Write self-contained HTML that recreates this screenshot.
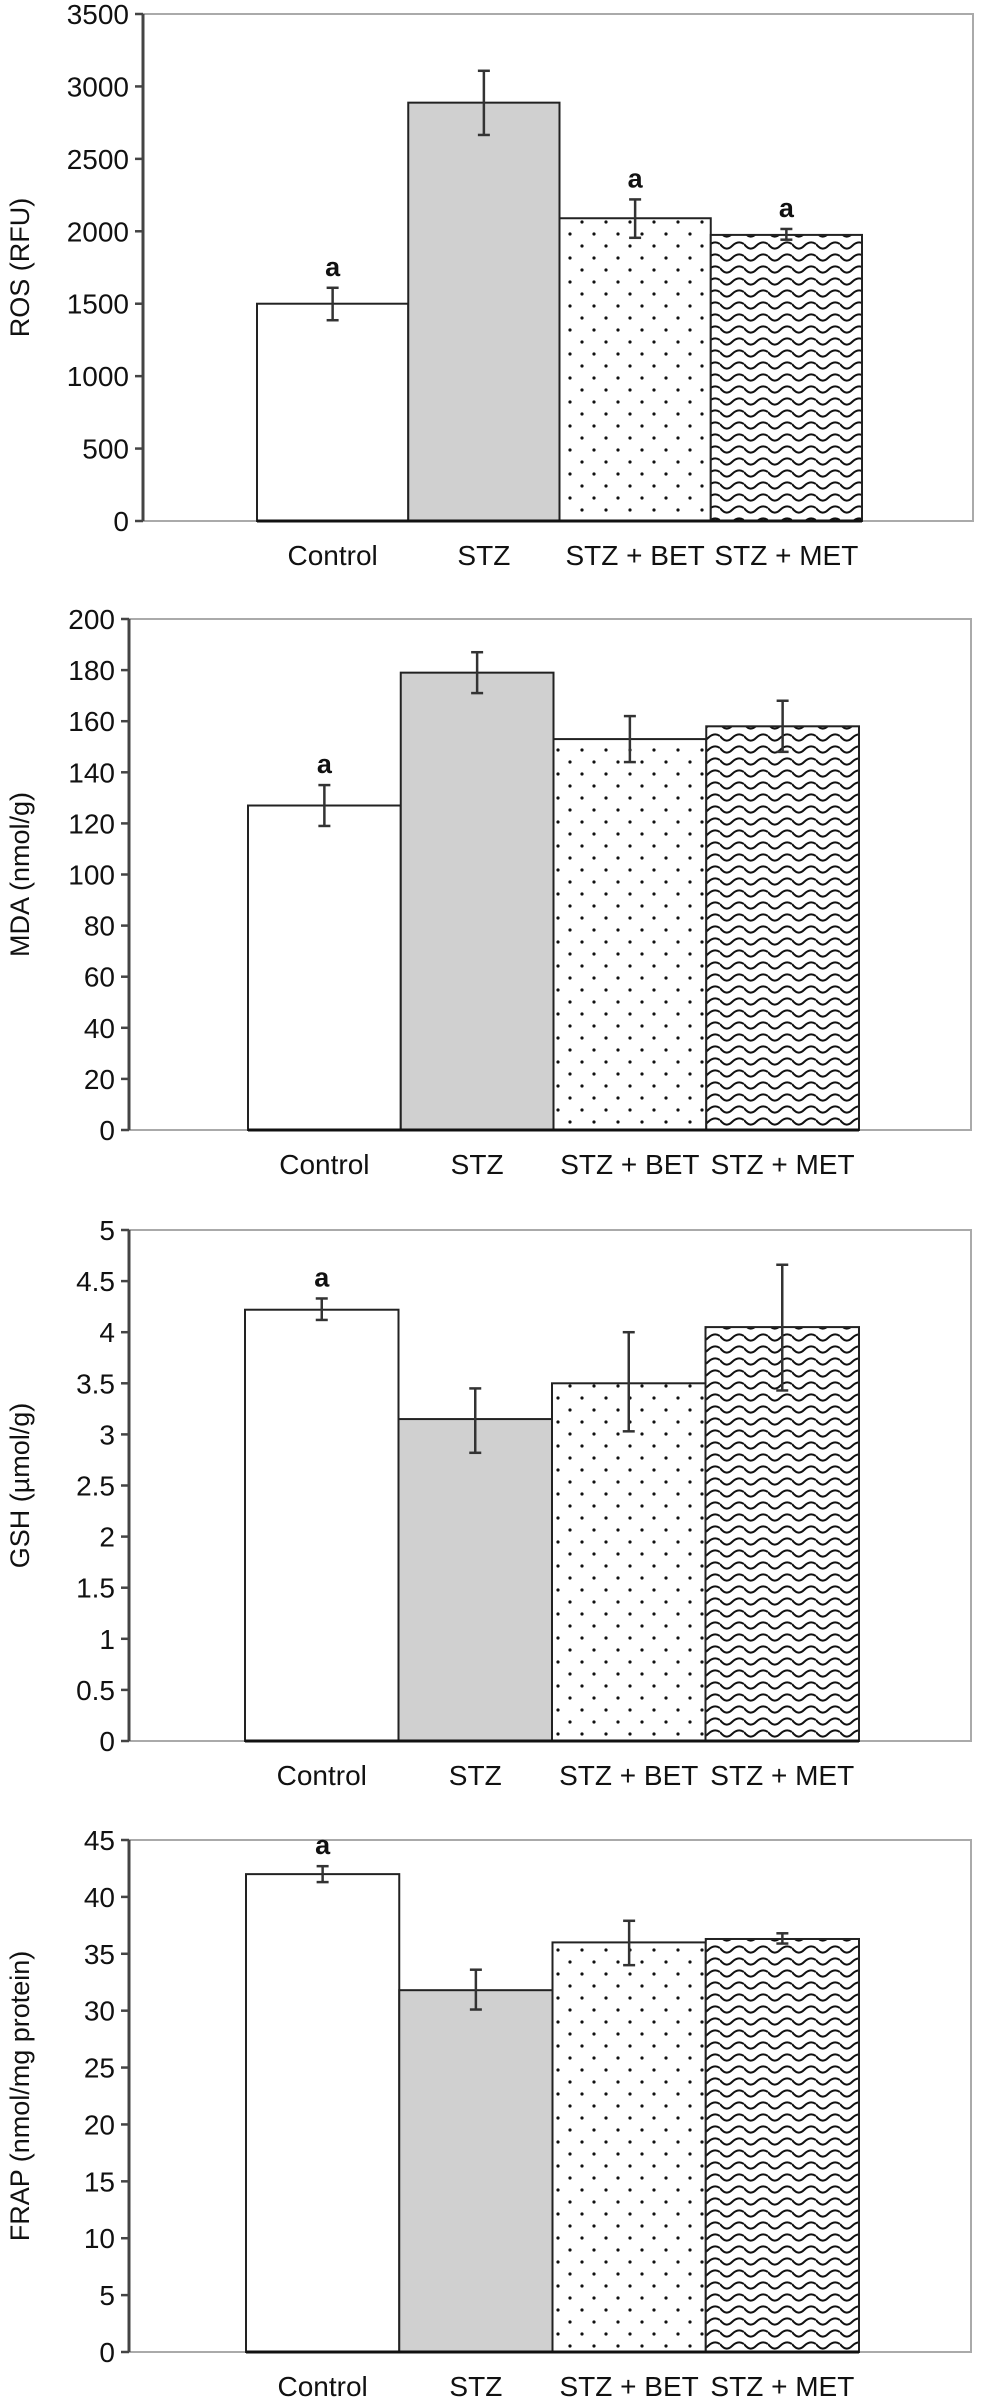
<!DOCTYPE html>
<html><head><meta charset="utf-8">
<style>
html,body{margin:0;padding:0;background:#fff;}
svg{display:block;}
text{font-family:"Liberation Sans",sans-serif;fill:#111;}
</style></head>
<body>
<svg id="fig" width="981" height="2403" viewBox="0 0 981 2403" xmlns="http://www.w3.org/2000/svg">
<defs>
<pattern id="dots" width="24" height="24" patternUnits="userSpaceOnUse">
<rect width="24" height="24" fill="#fff"/>
<circle cx="6" cy="6" r="1.6" fill="#111"/>
<circle cx="18" cy="18" r="1.6" fill="#111"/>
</pattern>
<pattern id="waves" width="24" height="12" patternUnits="userSpaceOnUse">
<rect width="24" height="12" fill="#fff"/>
<path d="M0 4 Q6 12 12 6 Q18 0 24 4" fill="none" stroke="#111" stroke-width="2"/>
</pattern>
</defs>
</svg>
<script>
const categories = ["Control", "STZ", "STZ + BET", "STZ + MET"];

const rosValues = [1500, 2888, 2090, 1975];
const rosErrHi = [1610, 3108, 2220, 2016];
const rosErrLo = [1386, 2665, 1955, 1942];
const rosLetters = ["a", "", "a", "a"];
const rosTicks = [0, 500, 1000, 1500, 2000, 2500, 3000, 3500];
const rosTickLabels = ["0", "500", "1000", "1500", "2000", "2500", "3000", "3500"];

const mdaValues = [127, 179, 153, 158];
const mdaErrHi = [135, 187, 162, 168];
const mdaErrLo = [119, 171, 144, 148];
const mdaLetters = ["a", "", "", ""];
const mdaTicks = [0, 20, 40, 60, 80, 100, 120, 140, 160, 180, 200];
const mdaTickLabels = ["0", "20", "40", "60", "80", "100", "120", "140", "160", "180", "200"];

const gshValues = [4.22, 3.15, 3.50, 4.05];
const gshErrHi = [4.33, 3.45, 4.00, 4.66];
const gshErrLo = [4.12, 2.82, 3.03, 3.43];
const gshLetters = ["a", "", "", ""];
const gshTicks = [0, 0.5, 1, 1.5, 2, 2.5, 3, 3.5, 4, 4.5, 5];
const gshTickLabels = ["0", "0.5", "1", "1.5", "2", "2.5", "3", "3.5", "4", "4.5", "5"];

const frapValues = [42.0, 31.8, 36.0, 36.3];
const frapErrHi = [42.7, 33.6, 37.9, 36.8];
const frapErrLo = [41.3, 30.1, 34.0, 35.9];
const frapLetters = ["a", "", "", ""];
const frapTicks = [0, 5, 10, 15, 20, 25, 30, 35, 40, 45];
const frapTickLabels = ["0", "5", "10", "15", "20", "25", "30", "35", "40", "45"];

const NS = "http://www.w3.org/2000/svg";
const svg = document.getElementById("fig");
const fills = ["#fff", "#d0d0d0", "url(#dots)", "url(#waves)"];

function mk(tag, attrs, parent) {
  const e = document.createElementNS(NS, tag);
  for (const k in attrs) e.setAttribute(k, attrs[k]);
  parent.appendChild(e);
  return e;
}

function drawChart(cfg, values, hi, lo, letters, ticks, tickLabels) {
  const g = mk("g", {}, svg);
  
  
  const maxV = ticks[ticks.length - 1];
  const y = v => cfg.zero - (v / maxV) * (cfg.zero - cfg.top);
  const bw = (cfg.barsRight - cfg.barsLeft) / categories.length;
  const x = i => cfg.barsLeft + i * bw;

  // frame
  const frame = mk("path", {d: `M${cfg.axis} ${cfg.top} H${cfg.right} V${cfg.zero} H${cfg.axis}`, fill: "none", stroke: "#aaa", "stroke-width": 2}, g);
  
  

  // bars
  values.forEach((v, i) => {
    const r = mk("rect", {x: x(i), y: y(v), width: bw, height: cfg.zero - y(v), fill: fills[i], stroke: "#222", "stroke-width": 2}, g);
    
    
  });
  mk("line", {x1: cfg.barsLeft, x2: cfg.barsRight, y1: cfg.zero, y2: cfg.zero, stroke: "#111", "stroke-width": 3}, g);

  // error bars
  values.forEach((v, i) => {
    const cx = x(i) + bw / 2;
    const eg = mk("g", {stroke: "#333", "stroke-width": 2.5}, g);
    
    
    mk("line", {x1: cx, x2: cx, y1: y(hi[i]), y2: y(lo[i])}, eg);
    mk("line", {x1: cx - 6, x2: cx + 6, y1: y(hi[i]), y2: y(hi[i])}, eg);
    mk("line", {x1: cx - 6, x2: cx + 6, y1: y(lo[i]), y2: y(lo[i])}, eg);
    if (letters[i]) {
      const t = mk("text", {x: cx, y: y(hi[i]) - 12, "text-anchor": "middle", "font-size": 27, "font-weight": "bold"}, g);
      t.textContent = letters[i];
      
      
    }
  });

  // y axis
  const ax = mk("line", {x1: cfg.axis, x2: cfg.axis, y1: cfg.top, y2: cfg.zero, stroke: "#444", "stroke-width": 3}, g);
  
  
  ticks.forEach((tv, i) => {
    mk("line", {x1: cfg.axis - 8, x2: cfg.axis, y1: y(tv), y2: y(tv), stroke: "#444", "stroke-width": 2.5}, g);
    const t = mk("text", {x: cfg.axis - 14, y: y(tv) + 10, "text-anchor": "end", "font-size": 28}, g);
    t.textContent = tickLabels[i];
    
    
  });

  // x labels
  categories.forEach((c, i) => {
    const t = mk("text", {x: x(i) + bw / 2, y: cfg.zero + 44, "text-anchor": "middle", "font-size": 28}, g);
    t.textContent = c;
    
    
  });

  // y title
  const my = (cfg.top + cfg.zero) / 2;
  const tt = mk("text", {x: cfg.titleX, y: my, "text-anchor": "middle", "font-size": 27, transform: `rotate(-90 ${cfg.titleX} ${my})`}, g);
  tt.textContent = cfg.title;
  
  
}

drawChart({name: "ros", title: "ROS (RFU)", top: 14, zero: 521, axis: 143, right: 973, barsLeft: 257, barsRight: 862, titleX: 29},
  rosValues, rosErrHi, rosErrLo, rosLetters, rosTicks, rosTickLabels);
drawChart({name: "mda", title: "MDA (nmol/g)", top: 619, zero: 1130, axis: 129, right: 971, barsLeft: 248, barsRight: 859, titleX: 29},
  mdaValues, mdaErrHi, mdaErrLo, mdaLetters, mdaTicks, mdaTickLabels);
drawChart({name: "gsh", title: "GSH (\u00b5mol/g)", top: 1230, zero: 1741, axis: 129, right: 971, barsLeft: 245, barsRight: 859, titleX: 29},
  gshValues, gshErrHi, gshErrLo, gshLetters, gshTicks, gshTickLabels);
drawChart({name: "frap", title: "FRAP (nmol/mg protein)", top: 1840, zero: 2352, axis: 129, right: 971, barsLeft: 246, barsRight: 859, titleX: 29},
  frapValues, frapErrHi, frapErrLo, frapLetters, frapTicks, frapTickLabels);
</script>
</body></html>
